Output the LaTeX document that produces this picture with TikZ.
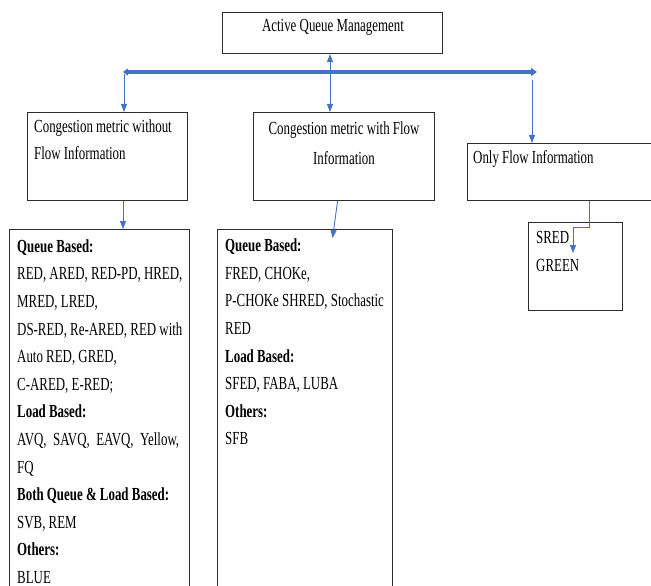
\documentclass[tikz,border=0pt]{standalone}
\usepackage{fontspec}
\setmainfont{Liberation Serif}[FakeStretch=0.70]
\usetikzlibrary{arrows.meta,positioning}
\definecolor{linkblue}{RGB}{68,114,196}
\definecolor{edgegray}{RGB}{45,45,45}

\begin{document}
\begin{tikzpicture}[
    x=1bp, y=-1bp,
    box/.style={rectangle, draw=edgegray, line width=1.1pt, inner sep=0pt, anchor=north west},
    boxtext/.style={inner sep=0pt, anchor=base west, align=left, font=\fontsize{18.5}{27.7}\selectfont},
    link/.style={-{Triangle[length=8bp,width=6bp]}, linkblue, line width=0.9pt},
    duplex/.style={{Triangle[length=8bp,width=6bp]}-{Triangle[length=8bp,width=6bp]}, linkblue, line width=0.9pt},
    trunk/.style={{Triangle[length=5bp,width=7bp]}-{Triangle[length=6bp,width=8bp]}, linkblue, line width=4.5bp}
]
\useasboundingbox (0,0) rectangle (651,586);
\clip (0,0) rectangle (651,586);

% Root
\node[box, minimum width=220bp, minimum height=41bp] (aqm) at (222,12) {};
\node[boxtext, anchor=base] (aqmtext) at (333,32) {Active Queue Management};

% Categories (text nodes sit on the baseline of their last line)
\node[box, minimum width=160bp, minimum height=88bp] (nometric) at (27,112) {};
\node[boxtext] (nometrictext) at (34,160) {Congestion metric without\\Flow Information};

\node[box, minimum width=181bp, minimum height=88bp] (withflow) at (253,112) {};
\node[boxtext, anchor=base, align=center] (withflowtext) at (344,165) {Congestion metric with Flow\\[3bp]Information};

\node[box, minimum width=200bp, minimum height=57bp] (onlyflow) at (467,143) {};
\node[boxtext] (onlyflowtext) at (473,164) {Only Flow Information};

% Algorithm lists
\node[box, minimum width=180bp, minimum height=400bp] (nometriclist) at (9,229) {};
\node[boxtext] (nometricalgos) at (17,583.4) {\textbf{Queue Based:}\\
RED, ARED, RED-PD, HRED,\\
MRED, LRED,\\
DS-RED, Re-ARED, RED with\\
Auto RED, GRED,\\
C-ARED, E-RED;\\
\textbf{Load Based:}\\
AVQ,\ \ SAVQ,\ \ EAVQ,\ \ Yellow,\\
FQ\\
\textbf{Both Queue \& Load Based:}\\
SVB, REM\\
\textbf{Others:}\\
BLUE};

\node[box, minimum width=175bp, minimum height=400bp] (withflowlist) at (217,229) {};
\node[boxtext] (withflowalgos) at (225,444.9) {\textbf{Queue Based:}\\
FRED, CHOKe,\\
P-CHOKe SHRED, Stochastic\\
RED\\
\textbf{Load Based:}\\
SFED, FABA, LUBA\\
\textbf{Others:}\\
SFB};

\node[box, minimum width=94bp, minimum height=88bp] (onlyflowlist) at (528,222) {};
\node[boxtext] (onlyflowalgos) at (536,271) {SRED\\GREEN};

% Trunk line
\coordinate (trunkL) at (123,72);
\coordinate (trunkR) at (537,72);
\coordinate (hub) at (330,72);
\coordinate (drop) at (532,80);
\coordinate (sredtip) at (573,253);
\draw[trunk] (trunkL) -- (trunkR);

% Arrows
\draw[duplex] (aqm.south -| hub) -- (withflow.north -| hub);
\draw[link] ([xshift=1bp,yshift=-2bp]trunkL) -- ([xshift=1bp]nometric.north -| trunkL);
\draw[link] (drop) -- (onlyflow.north -| drop);
\draw[link] (nometric.south -| trunkL) -- (nometriclist.north -| trunkL);
\draw[link] ([xshift=-6.5bp]withflow.south) -- ([xshift=27.5bp,yshift=-9bp]withflowlist.north);
\draw[link] ([xshift=22bp]onlyflow.south) |- ([yshift=26bp]sredtip) -- (sredtip);

\end{tikzpicture}
\end{document}
